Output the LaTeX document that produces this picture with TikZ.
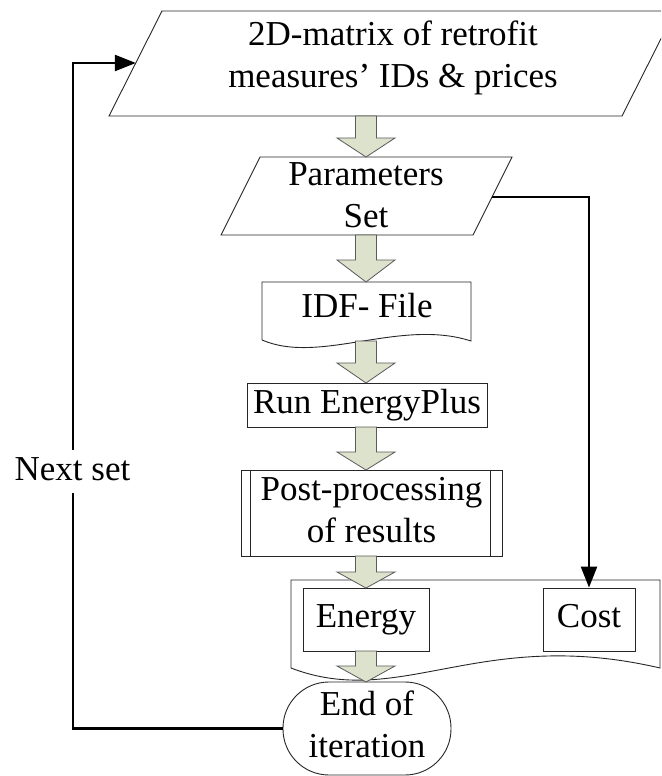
\documentclass[tikz,border=0pt]{standalone}
\usepackage{fontspec}
\setmainfont{Liberation Serif}
\usetikzlibrary{arrows.meta,calc}
\definecolor{blockfill}{RGB}{220,226,204}
\definecolor{blockline}{RGB}{90,90,90}
\newcommand\blockarr[4]{%
  \draw[blockarrow] (#1-10.5,#2) -- (#1+10.5,#2) -- (#1+10.5,#3) -- (#1+29,#3) -- (#1,#4) -- (#1-29,#3) -- (#1-10.5,#3) -- cycle;}
\begin{document}
\begin{tikzpicture}[x=1pt,y=-1pt,
  txt/.style={font=\fontsize{35}{42}\selectfont, align=center, inner sep=0pt},
  shapeline/.style={draw=black!85, line width=0.9pt},
  boxnode/.style={shapeline, txt, fill=white},
  conn/.style={line width=2.6pt, -{Triangle[length=21pt,width=16pt]}},
  blockarrow/.style={fill=blockfill, draw=blockline, line width=0.8pt, line join=miter}]
\useasboundingbox (0,0) rectangle (661,776);
\fill[white] (0,0) rectangle (661,776);

% top parallelogram (clipped at picture edge)
\begin{scope}
  \clip (0,0) rectangle (661,776);
  \draw[shapeline] (162,11) -- (675,11) -- (622,116) -- (109,116) -- cycle;
\end{scope}
\node[txt] (mat) at (393,57.6) {\strut 2D-matrix of retrofit\\\strut measures’ IDs \& prices};

% parameters set
\draw[shapeline] (260,157) -- (512,157) -- (473,235) -- (221,235) -- cycle;
\node[txt] (params) at (366,197.6) {\strut Parameters\\\strut Set};

% IDF file (document shape)
\draw[shapeline] (262,340) -- (262,282) -- (471,282) -- (471,341)
  .. controls (400,318) and (320,365) .. (262,340);
\node[txt] (idf) at (367,308.6) {\strut IDF- File};

% run
\node[boxnode, minimum width=240pt, minimum height=44pt] (run) at (367,405) {\strut Run EnergyPlus};

% post-processing (predefined process)
\node[boxnode, minimum width=261pt, minimum height=86pt] (post) at (371.5,513) {\strut Post-processing\\\strut of results};
\draw[shapeline] ([xshift=9.5pt]post.north west) -- ([xshift=9.5pt]post.south west);
\draw[shapeline] ([xshift=-12pt]post.north east) -- ([xshift=-12pt]post.south east);

% results container
\draw[shapeline] (291,668) -- (291,580) -- (660,580) -- (660,668)
  .. controls (480,626) and (400,710) .. (291,668);
\node[boxnode, minimum width=126pt, minimum height=63pt] (energy) at (366,619.5) {\strut Energy};
\node[boxnode, minimum width=92pt, minimum height=63pt] (cost) at (589,619.5) {\strut Cost};

% end
\node[boxnode, rounded corners=46pt, minimum width=168pt, minimum height=93pt] (endit) at (367,728.5) {\strut End of\\\strut iteration};

% block arrows
\blockarr{366}{116}{138}{157}
\blockarr{366}{235}{260}{282}
\blockarr{366}{341}{363}{383}
\blockarr{366}{427}{452}{470}
\blockarr{366}{556}{572}{588}
\blockarr{366}{651}{666}{682}

% connectors
\coordinate (corner) at (73,63);
\coordinate (mleft) at (135.8,63);
\draw[conn] (endit.west) -| (corner) -- (mleft);
\node[txt, fill=white, inner xsep=2pt, inner ysep=0.5pt] (next) at (72.5,471.6) {\strut Next set};

\coordinate (pright) at (492.4,197);
\draw[conn] (pright) -| (cost.north);
\end{tikzpicture}
\end{document}
